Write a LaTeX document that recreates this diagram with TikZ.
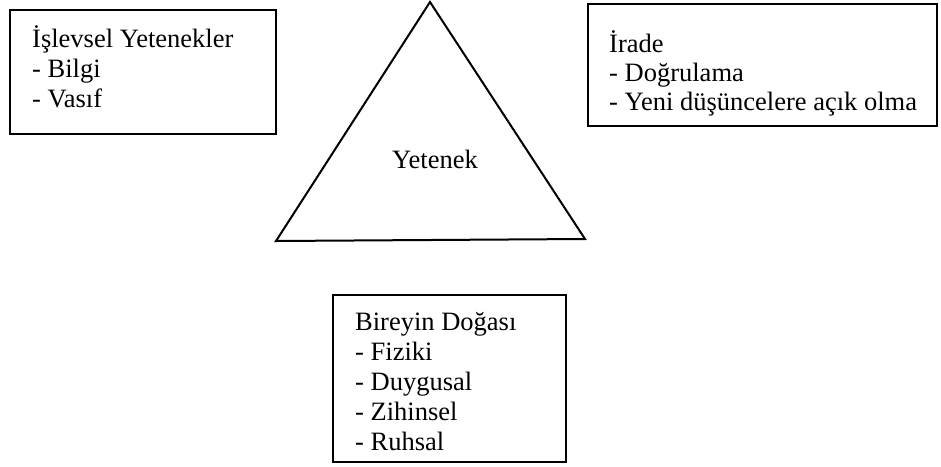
\documentclass[tikz,border=0pt]{standalone}
\usepackage{fontspec}
\setmainfont{Liberation Serif}
\begin{document}
\begin{tikzpicture}[x=1pt,y=-1pt,
  boxst/.style={draw=black, line width=2.2pt, rectangle, inner sep=0pt, anchor=north west},
  txt/.style={anchor=base west, inner sep=0pt, font=\fontsize{26.5pt}{30pt}\selectfont},
  tri/.style={draw=black, line width=2pt, line join=miter}]
\useasboundingbox (0,0) rectangle (941,466);
% left box
\node[boxst, minimum width=266pt, minimum height=124pt] (fbox) at (9,9) {};
\node[txt] (f1) at (32,47) {İşlevsel Yetenekler};
\node[txt] (f2) at (32,77) {- Bilgi};
\node[txt] (f3) at (32,107) {- Vasıf};
% right box
\node[boxst, minimum width=349pt, minimum height=122pt] (ibox) at (587,3) {};
\node[txt] (i1) at (609,52) {İrade};
\node[txt] (i2) at (609,81) {- Doğrulama};
\node[txt] (i3) at (609,110) {- Yeni düşüncelere açık olma};
% triangle
\coordinate (ta) at (430,2);
\coordinate (tb) at (276,241);
\coordinate (tc) at (585,239);
\draw[tri] (ta) -- (tb) -- (tc) -- cycle;
\node[txt] (yt) at (392,168) {Yetenek};
% bottom box
\node[boxst, minimum width=233pt, minimum height=167pt] (bbox) at (332,294) {};
\node[txt] (b1) at (355,330) {Bireyin Doğası};
\node[txt] (b2) at (355,360) {- Fiziki};
\node[txt] (b3) at (355,390) {- Duygusal};
\node[txt] (b4) at (355,420) {- Zihinsel};
\node[txt] (b5) at (355,450) {- Ruhsal};
\end{tikzpicture}
\end{document}
